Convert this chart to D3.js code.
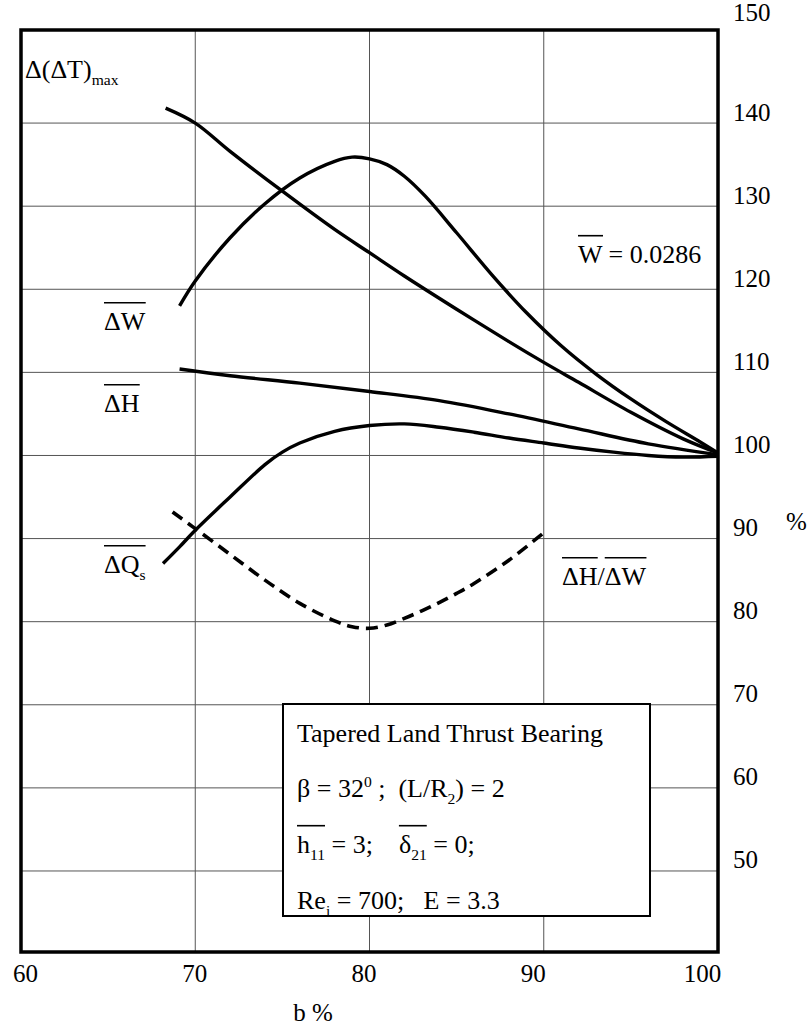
<!DOCTYPE html>
<html>
<head>
<meta charset="utf-8">
<script src="https://cdn.jsdelivr.net/npm/d3@7"></script>
<style>
body { margin: 0; background: #fff; }
svg text { font-family: "Liberation Serif", "Times New Roman", serif; fill: #000; white-space: pre; }
</style>
</head>
<body>
<div id="chart"></div>
<script>
var xTicks = [60, 70, 80, 90, 100];
var yTicks = [50, 60, 70, 80, 90, 100, 110, 120, 130, 140, 150];

// Delta(Delta T)max, the long descending line
var bTemp = [68.3, 70, 72, 75, 78, 80, 82, 85, 88, 90, 92, 95, 98, 100];
var tempRise = [141.8, 140, 136.6, 131.8, 127.2, 124.4, 121.6, 117.6, 113.7, 111.2, 108.8, 105.2, 102, 100.3];

// Delta W, the hump
var bLoad = [69.1, 70, 72, 74, 76, 78, 79, 80, 81, 82, 83.2, 85, 87, 89, 91, 93, 95, 97, 99, 100];
var loadChange = [118, 121, 126.2, 130.3, 133.4, 135.4, 135.9, 135.7, 135, 133.6, 131.2, 126.8, 121.8, 117.2, 113.2, 109.8, 106.8, 104.1, 101.6, 100.3];

// Delta H, nearly flat
var bPower = [69.1, 72, 76, 80, 84, 88, 92, 96, 100];
var powerChange = [110.4, 109.6, 108.7, 107.7, 106.6, 105, 103.2, 101.4, 100.1];

// Delta Qs, the lower hump
var bFlow = [68.15, 69.1, 70, 72, 74, 75, 76, 78, 80, 82, 84, 86, 88, 90, 92, 94, 96, 98, 100];
var flowChange = [87, 89, 91, 95, 98.9, 100.4, 101.5, 102.9, 103.6, 103.8, 103.4, 102.8, 102.1, 101.5, 100.9, 100.4, 100, 99.8, 99.9];

// Delta H / Delta W, dashed
var bRatio = [68.7, 70, 72, 74, 76, 78, 79, 80, 81, 82, 83, 84, 85, 86, 88, 90];
var ratio = [93.2, 91.2, 88.1, 85, 82.2, 80.1, 79.4, 79.2, 79.6, 80.4, 81.3, 82.3, 83.4, 84.6, 87.4, 90.7];

var W = 811, H = 1025;
var margin = {top: 30, right: 93, bottom: 73, left: 21};
var width = W - margin.left - margin.right;
var height = H - margin.top - margin.bottom;
var fs = 25;

var svg = d3.select("#chart").append("svg")
    .attr("width", W)
    .attr("height", H);

var g = svg.append("g")
    .attr("transform", "translate(" + margin.left + "," + margin.top + ")");

var x = d3.scaleLinear().domain([60, 100]).range([0, width]);
var y = d3.scaleLinear().domain([40.25, 151.2]).range([height, 0]);
// the printed tick labels sit a little inside the grid span
var xLab = d3.scaleLinear().domain([60, 100]).range([x(60) + 4, x(100) - 16]);

// grid
g.selectAll(".hgrid").data(yTicks.filter(function(d) { return d < 150; })).enter()
    .append("line")
    .attr("x1", 0).attr("x2", width)
    .attr("y1", function(d) { return y(d); })
    .attr("y2", function(d) { return y(d); })
    .attr("stroke", "#555").attr("stroke-width", 1);

g.selectAll(".vgrid").data(xTicks.slice(1, 4)).enter()
    .append("line")
    .attr("y1", 0).attr("y2", height)
    .attr("x1", function(d) { return x(d); })
    .attr("x2", function(d) { return x(d); })
    .attr("stroke", "#555").attr("stroke-width", 1);

// axes, labels only
var xAxis = d3.axisBottom(xLab).tickValues(xTicks).tickSize(0).tickPadding(0);
var xg = g.append("g")
    .attr("transform", "translate(0," + height + ")")
    .call(xAxis);
xg.select(".domain").remove();
xg.selectAll("text")
    .attr("y", 30).attr("dy", 0)
    .style("font-size", fs + "px")
    .style("font-family", "Liberation Serif");

var yAxis = d3.axisRight(y).tickValues(yTicks).tickSize(0).tickPadding(0);
var yg = g.append("g")
    .attr("transform", "translate(" + width + ",0)")
    .call(yAxis);
yg.select(".domain").remove();
yg.selectAll("text")
    .attr("x", 15)
    .attr("y", function(d) { return d === 150 ? -19 : -3; })
    .attr("dy", 0)
    .style("font-size", fs + "px")
    .style("font-family", "Liberation Serif");

// curves
var line = d3.line()
    .x(function(d) { return x(d[0]); })
    .y(function(d) { return y(d[1]); })
    .curve(d3.curveCatmullRom.alpha(0.5));

function series(bs, vs) {
    return bs.map(function(b, i) { return [b, vs[i]]; });
}

var solid = [series(bTemp, tempRise), series(bLoad, loadChange), series(bPower, powerChange), series(bFlow, flowChange)];
g.selectAll(".curve").data(solid).enter()
    .append("path")
    .attr("d", line)
    .attr("fill", "none")
    .attr("stroke", "#000")
    .attr("stroke-width", 3.4);

g.append("path")
    .attr("d", line(series(bRatio, ratio)))
    .attr("fill", "none")
    .attr("stroke", "#000")
    .attr("stroke-width", 3.6)
    .attr("stroke-dasharray", "12,7");

// info box
var box = svg.append("g");
box.append("rect")
    .attr("x", 283).attr("y", 704)
    .attr("width", 367).attr("height", 212)
    .attr("fill", "#fff")
    .attr("stroke", "#000")
    .attr("stroke-width", 2);

// frame
g.append("rect")
    .attr("width", width).attr("height", height)
    .attr("fill", "none")
    .attr("stroke", "#000")
    .attr("stroke-width", 3.5);

// text with sub/superscripts and overlines
function rich(sel, px, py, parts, size) {
    var t = sel.append("text").attr("x", px).attr("y", py).style("font-size", size + "px");
    var shift = 0;
    parts.forEach(function(p) {
        var s = p.sub ? size * 0.28 : (p.sup ? -size * 0.4 : 0);
        var ts = t.append("tspan").text(p.t)
            .attr("dy", s - shift)
            .style("font-size", (p.sub || p.sup ? size * 0.6 : size) + "px");
        shift = s;
        if (p.ol) ts.attr("data-ol", p.ol);
    });
    var groups = {};
    t.selectAll("tspan").each(function() {
        var k = this.getAttribute("data-ol");
        if (!k) return;
        var b = this.getBBox();
        if (!groups[k]) groups[k] = [b.x, b.x + b.width];
        else {
            groups[k][0] = Math.min(groups[k][0], b.x);
            groups[k][1] = Math.max(groups[k][1], b.x + b.width);
        }
    });
    Object.keys(groups).forEach(function(k) {
        sel.append("line")
            .attr("x1", groups[k][0]).attr("x2", groups[k][1])
            .attr("y1", py - size * 1.05).attr("y2", py - size * 1.05)
            .attr("stroke", "#000").attr("stroke-width", 1.6);
    });
    return t;
}

rich(svg, 25, 78, [{t: "\u0394(\u0394T)"}, {t: "max", sub: true}], 26);
rich(svg, 104, 330, [{t: "\u0394W", ol: 1}], 26);
rich(svg, 104, 412, [{t: "\u0394H", ol: 1}], 26);
rich(svg, 104, 573, [{t: "\u0394Q", ol: 1}, {t: "s", sub: true, ol: 1}], 26);
rich(svg, 578, 263, [{t: "W", ol: 1}, {t: " = 0.0286"}], 26);
rich(svg, 562, 585, [{t: "\u0394H", ol: 1}, {t: "/"}, {t: "\u0394W", ol: 2}], 26);

rich(svg, 297, 742, [{t: "Tapered Land Thrust Bearing"}], 26);
rich(svg, 297, 797, [{t: "\u03b2 = 32"}, {t: "0", sup: true}, {t: " ;  (L/R"}, {t: "2", sub: true}, {t: ") = 2"}], 26);
rich(svg, 297, 853, [{t: "h", ol: 1}, {t: "11", sub: true, ol: 1}, {t: " = 3;    "}, {t: "\u03b4", ol: 2}, {t: "21", sub: true, ol: 2}, {t: " = 0;"}], 26);
rich(svg, 297, 909, [{t: "Re"}, {t: "i", sub: true}, {t: " = 700;   E = 3.3"}], 26);

svg.append("text")
    .attr("x", 313).attr("y", 1021)
    .attr("text-anchor", "middle")
    .style("font-size", fs + "px")
    .text("b %");

svg.append("text")
    .attr("x", 786).attr("y", 530)
    .style("font-size", fs + "px")
    .text("%");
</script>
</body>
</html>
